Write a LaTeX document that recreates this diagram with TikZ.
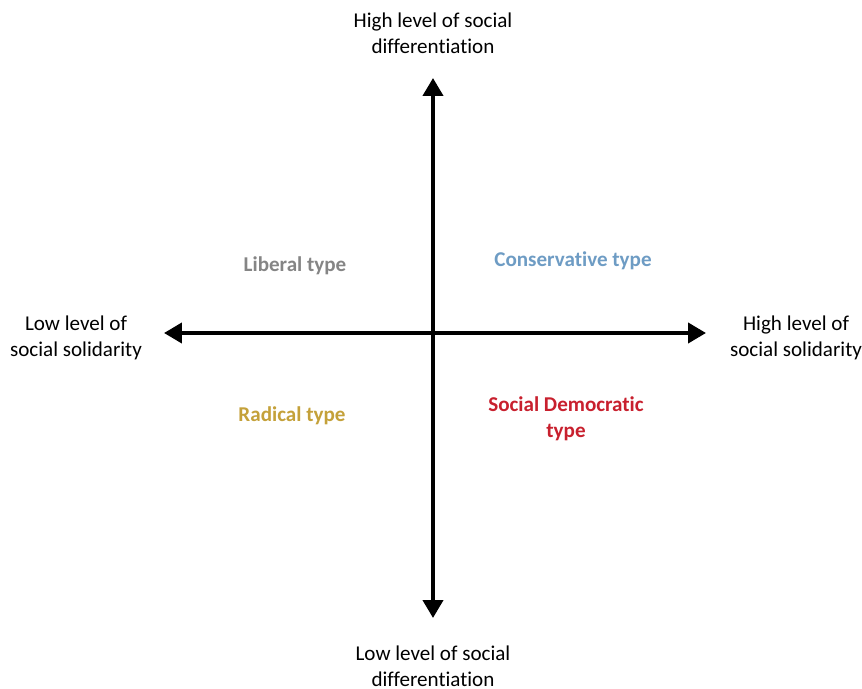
\documentclass[tikz,border=0pt]{standalone}
\usepackage{fontspec}
\setmainfont[Ligatures=NoCommon]{Carlito}
\usepackage{xcolor}
\usetikzlibrary{arrows.meta}
\usetikzlibrary{math}

\definecolor{libgray}{HTML}{858585}
\definecolor{consblue}{HTML}{6E9CC4}
\definecolor{radgold}{HTML}{C4A13A}
\definecolor{socred}{HTML}{C8202E}

\tikzset{
  axislabel/.style={align=center, font=\fontsize{12}{14.7}\selectfont},
  typelabel/.style={align=center, font=\fontsize{12}{14.9}\selectfont\bfseries},
  axis/.style={line width=2.3pt, {Triangle[length=0.36cm,width=0.4cm]}-{Triangle[length=0.36cm,width=0.4cm]}}
}

\begin{document}
\begin{tikzpicture}[x=0.02cm,y=-0.02cm]
\tikzmath{
\cx=433;
\cy=333;
}
\useasboundingbox (0,0) rectangle (862,689);

\coordinate (top) at (\cx,78);
\coordinate (bottom) at (\cx,618);
\coordinate (left) at (164,\cy);
\coordinate (right) at (706,\cy);

\draw[axis] (bottom) -- (top);
\draw[axis] (left) -- (right);

\node[axislabel] (hisd) at (\cx,33) {High level of social\\differentiation};
\node[axislabel] (losd) at (\cx,666) {Low level of social\\differentiation};
\node[axislabel] (loss) at (76,338) {Low level of\\social solidarity};
\node[axislabel] (hiss) at (796,338) {High level of\\social solidarity};

\node[typelabel, text=libgray] (liberal) at (295,266) {Liberal type};
\node[typelabel, text=consblue] (conservative) at (573,261) {Conservative type};
\node[typelabel, text=radgold] (radical) at (292,416) {Radical type};
\node[typelabel, text=socred] (socdem) at (566,419) {Social Democratic\\type};

\end{tikzpicture}
\end{document}
